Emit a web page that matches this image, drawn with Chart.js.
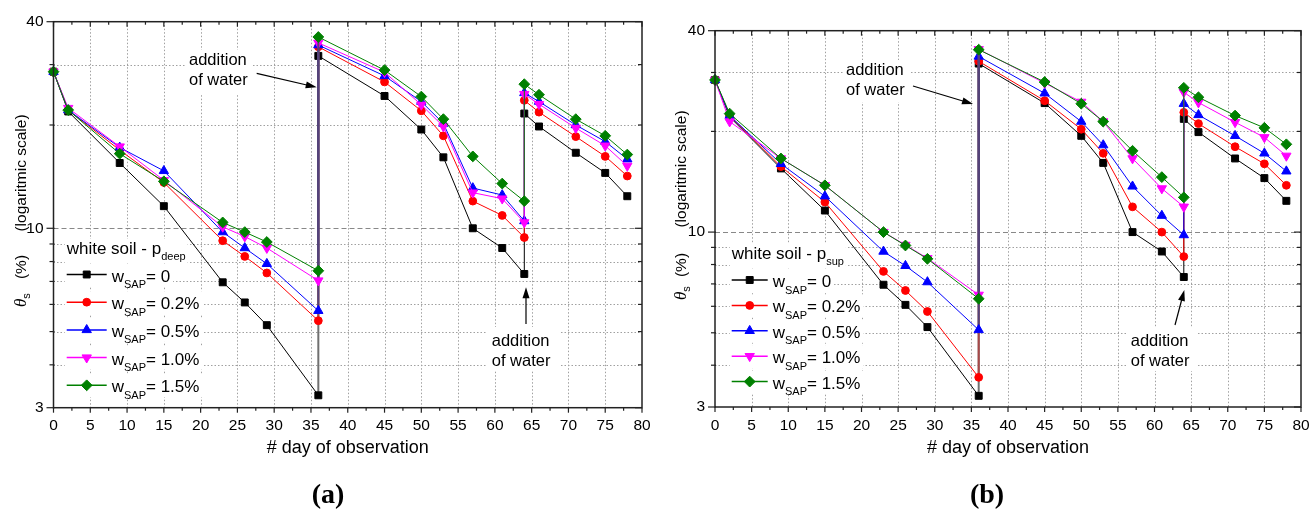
<!DOCTYPE html>
<html>
<head>
<meta charset="utf-8">
<script src="https://cdn.jsdelivr.net/npm/chart.js@4.4.0/dist/chart.umd.min.js"></script>
<style>
  body { margin: 0; background: #fff; width: 1309px; height: 510px; overflow: hidden; position: relative; }
  canvas { position: absolute; top: 0; }
  #chartA { left: 0; }
  #chartB { left: 660px; }
</style>
</head>
<body>
<canvas id="chartA" width="655" height="510"></canvas>
<canvas id="chartB" width="649" height="510"></canvas>
<script>
// day of each reading (water added on day 36 and day 64, so those days appear twice)
const days = [0, 2, 9, 15, 23, 26, 29, 36, 36, 45, 50, 53, 57, 61, 64, 64, 66, 71, 75, 78];
const waterDays = [36, 64];

// (a) white soil - p_deep
const deepW0  = [28.6, 21.9, 15.5, 11.6, 6.96, 6.08, 5.22, 3.26, 31.8, 24.3, 19.4, 16.1, 10.0, 8.76, 7.36, 21.6, 19.8, 16.6, 14.5, 12.4];
const deepW02 = [28.6, 22.1, 16.9, 13.6, 9.20, 8.28, 7.41, 5.38, 33.8, 26.7, 22.0, 18.6, 12.0, 10.9, 9.40, 23.6, 21.8, 18.5, 16.2, 14.2];
const deepW05 = [28.6, 22.1, 17.2, 14.7, 9.75, 8.76, 7.88, 5.75, 34.2, 27.8, 23.4, 20.2, 13.1, 12.5, 10.5, 24.8, 23.4, 20.0, 17.9, 15.9];
const deepW10 = [28.6, 22.4, 17.3, 13.8, 10.1, 9.46, 8.76, 7.04, 34.7, 28.5, 22.9, 19.8, 12.7, 12.2, 10.4, 24.6, 23.0, 19.6, 17.4, 15.2];
const deepW15 = [28.6, 22.1, 16.5, 13.7, 10.4, 9.75, 9.12, 7.52, 36.1, 28.9, 24.2, 20.8, 16.2, 13.5, 12.0, 26.3, 24.5, 20.8, 18.6, 16.4];

// (b) white soil - p_sup
const supW0  = [28.5, 22.1, 15.5, 11.6, 6.96, 6.06, 5.20, 3.24, 31.9, 24.3, 19.4, 16.1, 10.0, 8.75, 7.34, 21.8, 19.9, 16.6, 14.5, 12.4];
const supW02 = [28.5, 22.3, 15.7, 12.3, 7.63, 6.69, 5.79, 3.68, 32.4, 24.7, 20.3, 17.2, 11.9, 10.0, 8.45, 22.8, 21.1, 18.0, 16.0, 13.8];
const supW05 = [28.5, 22.3, 16.0, 12.8, 8.75, 7.93, 7.09, 5.10, 33.5, 26.0, 21.4, 18.2, 13.7, 11.2, 9.80, 24.2, 22.4, 19.4, 17.2, 15.2];
const supW10 = [28.5, 21.4, 16.6, 13.8, 10.0, 9.15, 8.35, 6.49, 35.2, 27.9, 24.5, 21.4, 16.6, 13.5, 11.9, 26.2, 24.4, 21.3, 19.2, 16.9];
const supW15 = [28.5, 22.6, 16.6, 13.8, 10.0, 9.12, 8.32, 6.32, 35.1, 28.1, 24.2, 21.4, 17.5, 14.6, 12.7, 27.0, 25.3, 22.3, 20.5, 18.3];

const sapLabels = ["= 0", "= 0.2%", "= 0.5%", "= 1.0%", "= 1.5%"];
const yTickValues = [3, 4, 5, 6, 7, 8, 9, 10, 20, 30, 40];
const yTickLabels = [3, 10, 40];
const xTickStep = 5;

const colors = ["#000000", "#ff0000", "#0000ff", "#ff00ff", "#008000"];
const markers = [
  { style: "rect", r: 4.9 },
  { style: "circle", r: 3.9 },
  { style: "triangle", r: 5.4 },
  { style: "triangle", r: 5.4, rot: 180 },
  { style: "rectRot", r: 5.4 }
];
const sans = "'Liberation Sans', Arial, sans-serif";

function line(ctx, x1, y1, x2, y2) {
  ctx.beginPath();
  ctx.moveTo(x1, y1);
  ctx.lineTo(x2, y2);
  ctx.stroke();
}

function drawMarker(ctx, m, x, y, color) {
  const r = m.r;
  ctx.save();
  ctx.translate(x, y);
  ctx.rotate((m.rot || 0) * Math.PI / 180);
  ctx.beginPath();
  if (m.style === "circle") ctx.arc(0, 0, r, 0, 2 * Math.PI);
  else if (m.style === "rect") { const s = Math.SQRT1_2 * r; ctx.rect(-s, -s, 2 * s, 2 * s); }
  else if (m.style === "rectRot") { ctx.moveTo(-r, 0); ctx.lineTo(0, -r); ctx.lineTo(r, 0); ctx.lineTo(0, r); ctx.closePath(); }
  else {
    for (let k = 0; k < 3; k++) {
      const a = k * 2 * Math.PI / 3;
      if (k === 0) ctx.moveTo(Math.sin(a) * r, -Math.cos(a) * r);
      else ctx.lineTo(Math.sin(a) * r, -Math.cos(a) * r);
    }
    ctx.closePath();
  }
  ctx.fillStyle = color;
  ctx.strokeStyle = color;
  ctx.lineWidth = 1;
  ctx.fill();
  ctx.stroke();
  ctx.restore();
}

// colour of the vertical jump where water was added
function jumpColor(day, i) {
  if (day !== waterDays[0]) return undefined;
  if (i === 0) return "#707070";
  if (i === 1) return "#a84848";
  return "#54437a";
}

function legendRows(ctx, L) {
  const rows = [];
  ctx.font = "17px " + sans;
  const tw = ctx.measureText("white soil - p").width;
  ctx.font = "11px " + sans;
  rows.push([L.x - 2, L.titleY - 15, tw + ctx.measureText(L.sub).width + 4, 24]);
  sapLabels.forEach((lab, i) => {
    const cy = L.rowY + i * L.rowGap;
    ctx.font = "17px " + sans;
    let w = L.lineLen + 5 + ctx.measureText("w").width + ctx.measureText(lab).width;
    ctx.font = "11px " + sans;
    w += ctx.measureText("SAP").width;
    rows.push([L.x - 2, cy - 11, w + 5, 23]);
  });
  return rows;
}

function drawLegend(ctx, L) {
  ctx.fillStyle = "#000";
  ctx.textAlign = "left";
  ctx.textBaseline = "alphabetic";
  ctx.font = "17px " + sans;
  ctx.fillText("white soil - p", L.x, L.titleY);
  const tw = ctx.measureText("white soil - p").width;
  ctx.font = "11px " + sans;
  ctx.fillText(L.sub, L.x + tw, L.titleY + 6);

  sapLabels.forEach((lab, i) => {
    const cy = L.rowY + i * L.rowGap;
    ctx.strokeStyle = colors[i];
    ctx.lineWidth = 1.5;
    line(ctx, L.x, cy, L.x + L.lineLen, cy);
    drawMarker(ctx, markers[i], L.x + L.lineLen / 2, cy, colors[i]);
    let tx = L.x + L.lineLen + 5;
    ctx.fillStyle = "#000";
    ctx.font = "17px " + sans;
    ctx.fillText("w", tx, cy + 7);
    tx += ctx.measureText("w").width;
    ctx.font = "11px " + sans;
    ctx.fillText("SAP", tx, cy + 13.5);
    tx += ctx.measureText("SAP").width;
    ctx.font = "17px " + sans;
    ctx.fillText(lab, tx, cy + 7);
  });
}

function drawNote(ctx, n) {
  ctx.fillStyle = "#000";
  ctx.font = "16.5px " + sans;
  ctx.textAlign = "left";
  ctx.fillText("addition", n.x, n.y);
  ctx.fillText("of water", n.x, n.y + 20);
  const [x1, y1, x2, y2] = n.arrow;
  const ang = Math.atan2(y2 - y1, x2 - x1);
  ctx.strokeStyle = "#000";
  ctx.lineWidth = 1.2;
  line(ctx, x1, y1, x2 - 8 * Math.cos(ang), y2 - 8 * Math.sin(ang));
  ctx.beginPath();
  ctx.moveTo(x2, y2);
  ctx.lineTo(x2 - 11 * Math.cos(ang) + 3.5 * Math.sin(ang), y2 - 11 * Math.sin(ang) - 3.5 * Math.cos(ang));
  ctx.lineTo(x2 - 11 * Math.cos(ang) - 3.5 * Math.sin(ang), y2 - 11 * Math.sin(ang) + 3.5 * Math.cos(ang));
  ctx.closePath();
  ctx.fill();
}

const decor = {
  id: "decor",
  beforeDatasetsDraw(chart, args, o) {
    const { ctx, chartArea: a, scales: { x, y } } = chart;
    ctx.save();
    ctx.lineWidth = 1;
    ctx.strokeStyle = "#a0a0a0";
    ctx.setLineDash([1.5, 2]);
    x.ticks.forEach(t => {
      if (t.value <= x.min || t.value >= x.max) return;
      const px = Math.round(x.getPixelForValue(t.value)) + 0.5;
      line(ctx, px, a.top, px, a.bottom);
    });
    y.ticks.forEach(t => {
      if (t.value <= y.min || t.value >= y.max) return;
      const py = Math.round(y.getPixelForValue(t.value)) + 0.5;
      if (t.value === 10) { ctx.setLineDash([5, 3]); ctx.strokeStyle = "#888"; }
      else { ctx.setLineDash([1.5, 2]); ctx.strokeStyle = "#a0a0a0"; }
      line(ctx, a.left, py, a.right, py);
    });
    ctx.setLineDash([]);
    // white boxes behind legend rows and notes
    ctx.fillStyle = "#fff";
    legendRows(ctx, o.legend).forEach(m => ctx.fillRect(m[0], m[1], m[2], m[3]));
    o.notes.forEach(n => ctx.fillRect(n.mask[0], n.mask[1], n.mask[2], n.mask[3]));
    ctx.restore();
  },
  afterDatasetsDraw(chart, args, o) {
    const { ctx, chartArea: a, scales: { x, y } } = chart;
    ctx.save();
    // frame with ticks
    ctx.strokeStyle = "#222";
    ctx.lineWidth = 1.5;
    ctx.strokeRect(a.left, a.top, a.right - a.left, a.bottom - a.top);
    ctx.lineWidth = 1.2;
    for (let v = x.min; v <= x.max; v += xTickStep / 2) {
      const px = x.getPixelForValue(v);
      const len = v % xTickStep === 0 ? 5 : 3;
      line(ctx, px, a.bottom, px, a.bottom + len);
      line(ctx, px, a.top, px, a.top + len);
    }
    y.ticks.forEach(t => {
      const py = y.getPixelForValue(t.value);
      const len = yTickLabels.includes(t.value) ? 7 : 4;
      line(ctx, a.left - len, py, a.left + 1, py);
      line(ctx, a.right - len, py, a.right, py);
    });

    drawLegend(ctx, o.legend);
    o.notes.forEach(n => drawNote(ctx, n));

    // x title
    ctx.fillStyle = "#000";
    ctx.textAlign = "center";
    ctx.font = "18px " + sans;
    ctx.fillText("# day of observation", (a.left + a.right) / 2, 453);

    // y title
    const t = o.yTitle;
    ctx.save();
    ctx.translate(t.x, 0);
    ctx.rotate(-Math.PI / 2);
    ctx.textAlign = "center";
    ctx.font = "15.5px " + sans;
    ctx.fillText("(logaritmic scale)", -t.logMid, 0);
    ctx.fillText("(%)", -t.pctMid, 0);
    ctx.textAlign = "left";
    ctx.font = "italic 17px 'Liberation Serif', 'Times New Roman', serif";
    ctx.fillText("\u03b8", -t.thetaStart, 0);
    const thw = ctx.measureText("\u03b8").width;
    ctx.font = "11px " + sans;
    ctx.fillText("s", -t.thetaStart + thw, 4);
    ctx.restore();

    // panel label
    ctx.textAlign = "center";
    ctx.font = "bold 28px 'Liberation Serif', 'Times New Roman', serif";
    ctx.fillText(o.panel, o.panelX, 503);
    ctx.restore();
  }
};

function buildDatasets(series) {
  return series.map((vals, i) => ({
    label: sapLabels[i],
    data: days.map((d, k) => ({ x: d, y: vals[k] })),
    borderColor: colors[i],
    backgroundColor: colors[i],
    borderWidth: 1,
    pointStyle: markers[i].style,
    pointRadius: markers[i].r,
    pointRotation: markers[i].rot || 0,
    pointBorderWidth: 1,
    pointBackgroundColor: colors[i],
    pointBorderColor: colors[i],
    order: 5 - i,
    clip: false,
    segment: {
      borderColor: c => c.p0.parsed.x === c.p1.parsed.x ? jumpColor(c.p0.parsed.x, i) : undefined,
      borderWidth: c => c.p0.parsed.x === c.p1.parsed.x && c.p0.parsed.x === waterDays[0] ? 2 : undefined
    }
  }));
}

function makeChart(id, series, p) {
  const font = { family: sans, size: 15.5 };
  return new Chart(document.getElementById(id), {
    type: "line",
    data: { datasets: buildDatasets(series) },
    plugins: [decor],
    options: {
      responsive: false,
      animation: false,
      devicePixelRatio: 1,
      events: [],
      layout: { padding: p.padding },
      plugins: {
        legend: { display: false },
        tooltip: { enabled: false },
        decor: p
      },
      scales: {
        x: {
          type: "linear", min: 0, max: 80,
          ticks: { stepSize: xTickStep, font, color: "#000", padding: 9, maxRotation: 0, autoSkip: false },
          grid: { display: false, drawTicks: false },
          border: { display: false },
          afterFit: s => { s.height = 30; s.paddingLeft = 0; s.paddingRight = 0; }
        },
        y: {
          type: "logarithmic", min: 3, max: 40,
          afterBuildTicks: s => { s.ticks = yTickValues.map(v => ({ value: v })); },
          ticks: { font, color: "#000", padding: 10, autoSkip: false,
                   callback: v => yTickLabels.includes(v) ? String(v) : "" },
          grid: { display: false, drawTicks: false },
          border: { display: false },
          afterFit: s => { s.width = p.yWidth; s.paddingTop = 0; s.paddingBottom = 0; }
        }
      }
    }
  });
}

makeChart("chartA", [deepW0, deepW02, deepW05, deepW10, deepW15], {
  padding: { top: 21.7, right: 13, bottom: 72.3, left: 0 },
  yWidth: 53.5,
  legend: { x: 66.7, titleY: 254, sub: "deep", rowY: 274.5, rowGap: 27.7, lineLen: 40 },
  notes: [
    { x: 189, y: 65, arrow: [256.7, 73.3, 316.7, 87.3], mask: [185, 50, 68, 44] },
    { x: 491.7, y: 345.7, arrow: [526, 324, 526, 287.3], mask: [487, 327, 73, 44] }
  ],
  yTitle: { x: 25.5, logMid: 173, pctMid: 267, thetaStart: 307 },
  panel: "(a)", panelX: 328
});

makeChart("chartB", [supW0, supW02, supW05, supW10, supW15], {
  padding: { top: 30.7, right: 8, bottom: 73, left: 0 },
  yWidth: 55,
  legend: { x: 71.7, titleY: 259, sub: "sup", rowY: 280, rowGap: 25.4, lineLen: 36 },
  notes: [
    { x: 186, y: 75, arrow: [253, 86, 313, 104], mask: [183, 60, 68, 42] },
    { x: 470.7, y: 345.7, arrow: [515, 325, 524.3, 290], mask: [467, 327, 70, 44] }
  ],
  yTitle: { x: 25.5, logMid: 169, pctMid: 265, thetaStart: 300 },
  panel: "(b)", panelX: 327
});
</script>
</body>
</html>
